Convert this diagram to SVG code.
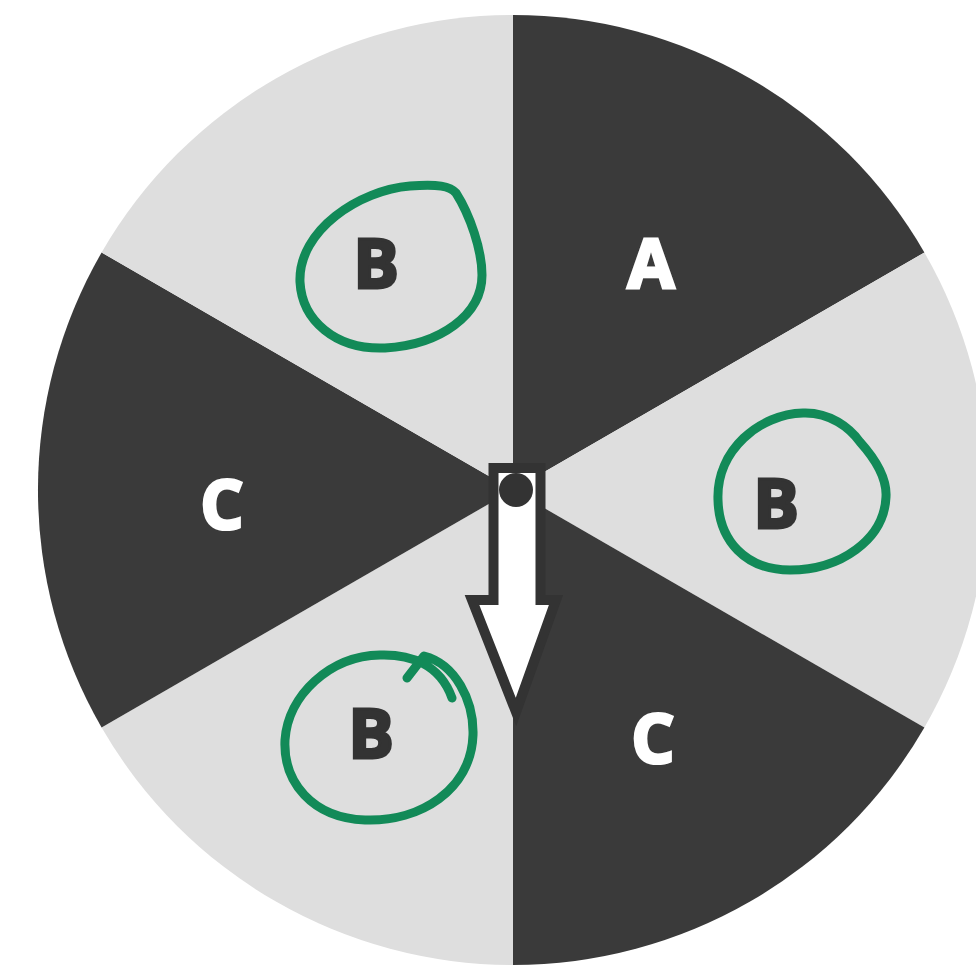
<svg xmlns="http://www.w3.org/2000/svg" width="976" height="969" viewBox="0 0 976 969">
<style>
.dark{fill:#3a3a3a}
.light{fill:#dedede}
.lblw{font-family:"Open Sans","DejaVu Sans",sans-serif;font-weight:bold;font-size:68px;fill:#ffffff;stroke:#ffffff;stroke-width:3;text-anchor:middle}
.lbld{font-family:"Open Sans","DejaVu Sans",sans-serif;font-weight:bold;font-size:68px;fill:#333333;stroke:#333333;stroke-width:3;text-anchor:middle}
.ring{fill:none;stroke:#128a58;stroke-width:9;stroke-linecap:round;stroke-linejoin:round}
</style>
<rect width="976" height="969" fill="#ffffff"/>
<g id="wheel">
  <g id="sector-A"><path class="dark" d="M513,490 L513,15 A475,475 0 0 1 924.4,252.5 Z"/><text class="lblw" x="651" y="288">A</text></g>
  <g id="sector-B-right"><path class="light" d="M513,490 L924.4,252.5 A475,475 0 0 1 924.4,727.5 Z"/><text class="lbld" x="776" y="528">B</text></g>
  <g id="sector-C-right"><path class="dark" d="M513,490 L924.4,727.5 A475,475 0 0 1 513,965 Z"/><text class="lblw" x="653" y="763">C</text></g>
  <g id="sector-B-bottom"><path class="light" d="M513,490 L513,965 A475,475 0 0 1 101.6,727.5 Z"/><text class="lbld" x="371" y="758">B</text></g>
  <g id="sector-C-left"><path class="dark" d="M513,490 L101.6,727.5 A475,475 0 0 1 101.6,252.5 Z"/><text class="lblw" x="222" y="529">C</text></g>
  <g id="sector-B-top"><path class="light" d="M513,490 L101.6,252.5 A475,475 0 0 1 513,15 Z"/><text class="lbld" x="376" y="288">B</text></g>
</g>
<g id="pointer">
  <path d="M493.5,468 L540.5,468 L540.5,600 L556,600 L516,712 L472,600 L493.5,600 Z" fill="#ffffff" stroke="#333333" stroke-width="10" stroke-linejoin="miter"/>
  <circle cx="516" cy="490" r="17" fill="#333333"/>
</g>
<g id="annotations">
  <path class="ring" d="M300,282 C298,230 360,190 410,186 C438,184 450,186 456,193 C470,215 482,250 482,275 C482,315 440,345 385,348 C335,350 302,320 300,282 Z"/>
  <path class="ring" d="M718,500 C716,450 760,414 803,413 C830,412 850,428 860,442 C878,462 887,480 886,497 C884,540 840,570 790,570 C745,570 719,540 718,500 Z"/>
  <path class="ring" d="M407,678 L424,656 C455,664 474,700 473,735 C471,790 420,822 365,820 C312,818 283,782 285,740 C288,695 330,656 380,655 C410,654 440,664 452,698"/>
</g>
</svg>
